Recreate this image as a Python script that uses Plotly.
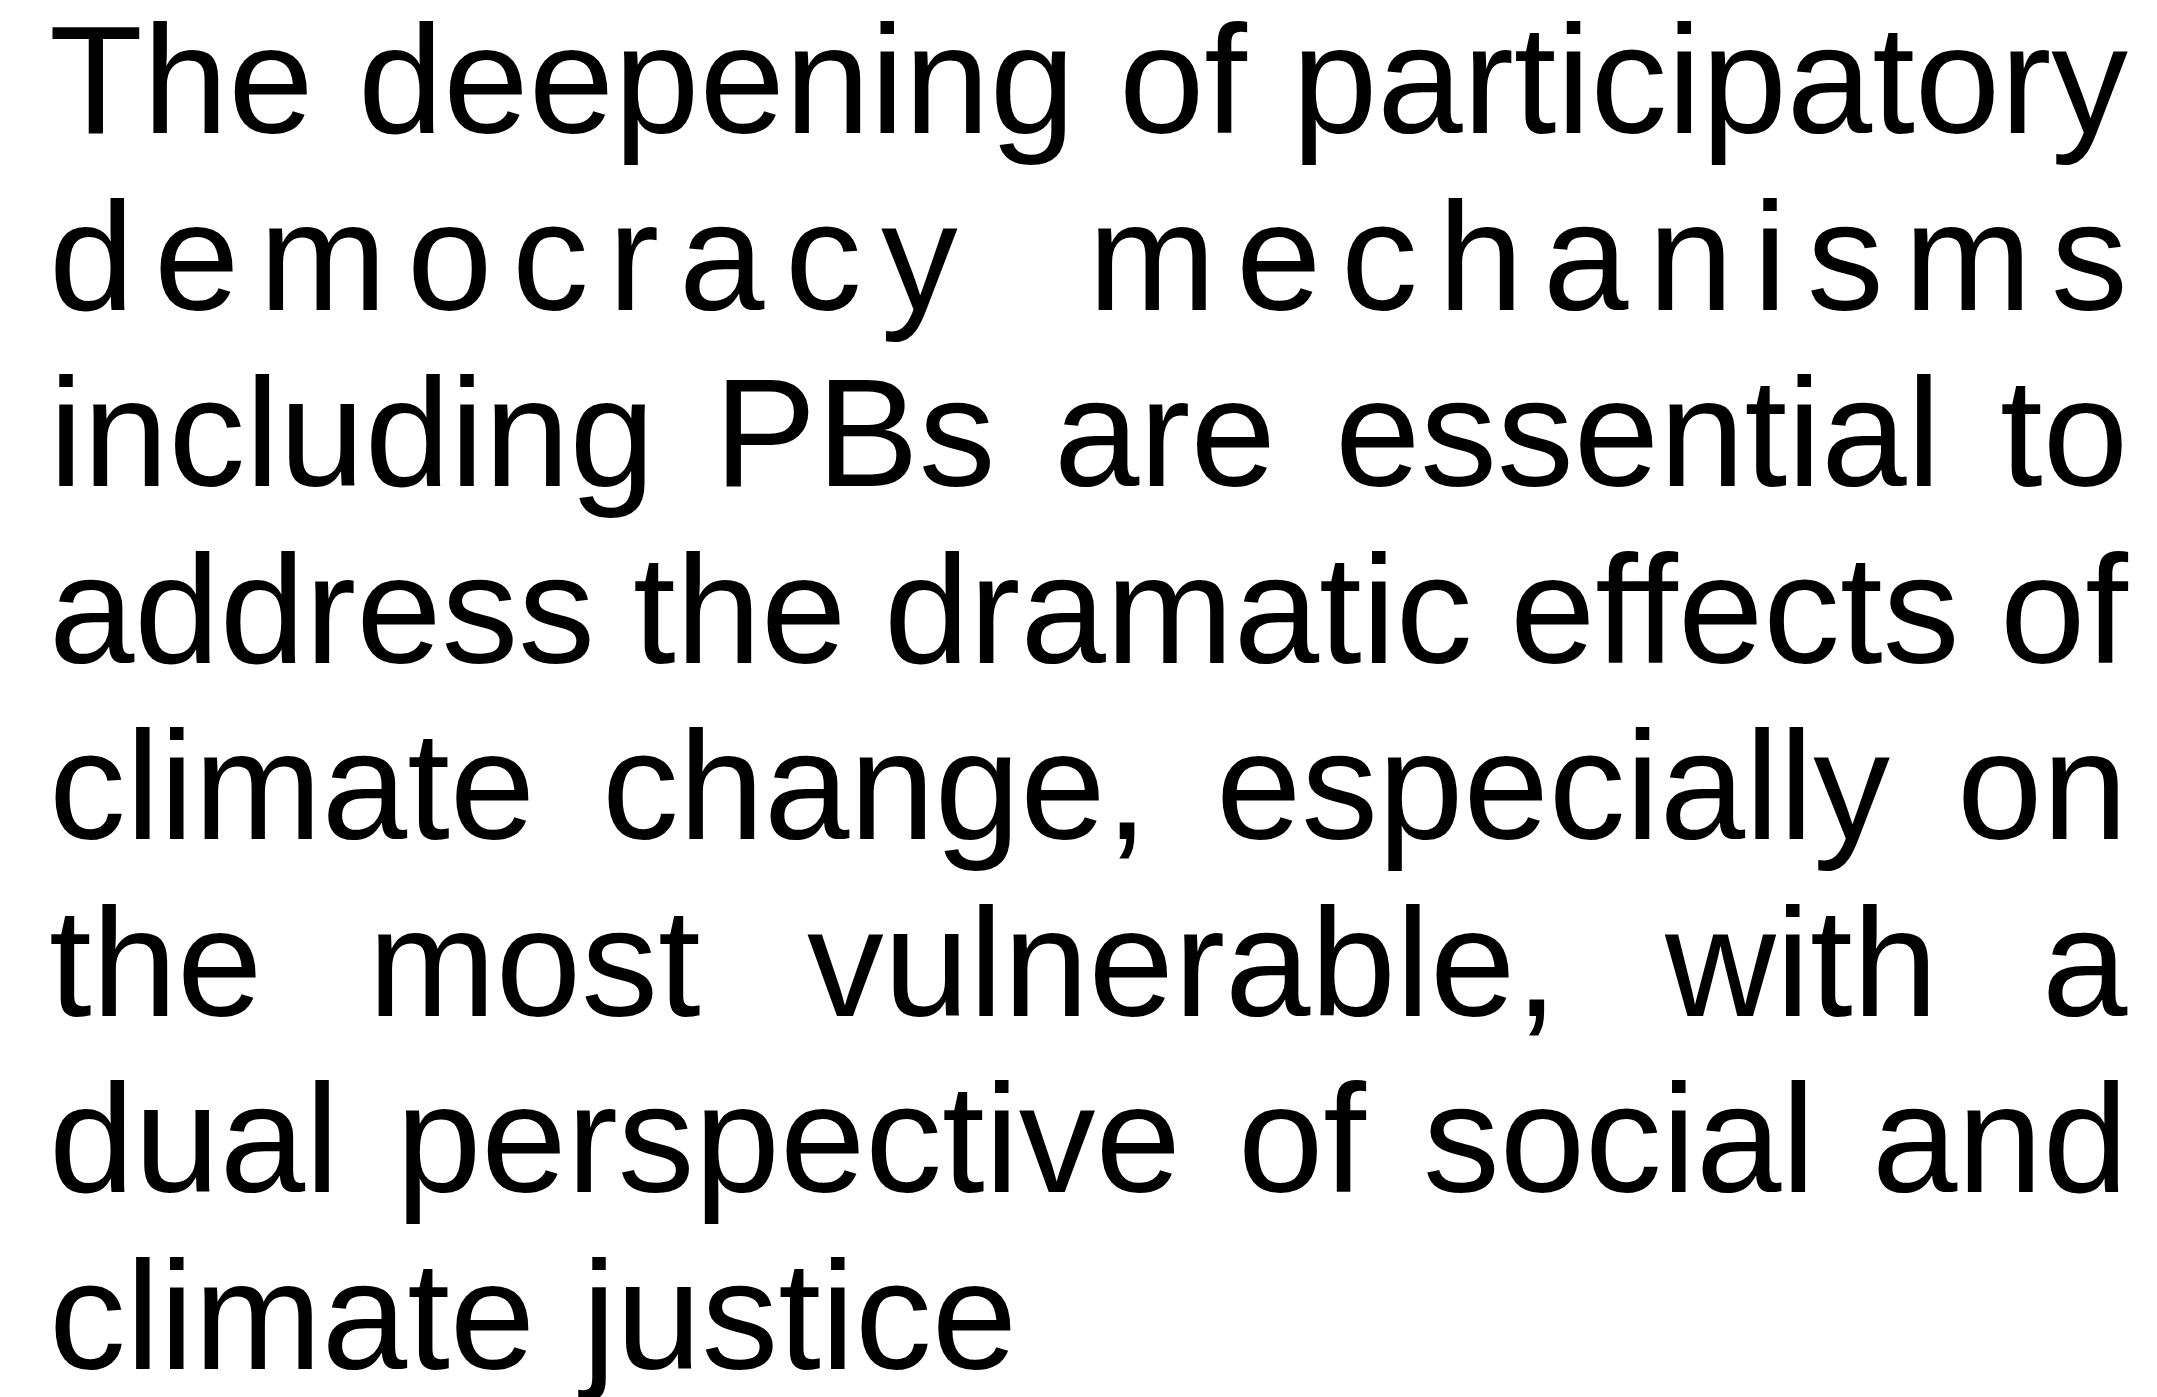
import plotly.graph_objects as go

# ---- text content (one entry per rendered line) ----
LINES = [
    "The deepening of participatory",
    "democracy mechanisms",
    "including PBs are essential to",
    "address the dramatic effects of",
    "climate change, especially on",
    "the most vulnerable, with a",
    "dual perspective of social and",
    "climate justice",
]
ALIGN = ["justify", "distribute", "justify", "justify",
         "justify", "justify", "justify", "left"]

# ---- layout constants ----
W_PX, H_PX = 2157, 1397
FONT_SIZE = 153.5
FONT_FAMILY = "Arial, Liberation Sans, Helvetica, sans-serif"
LEFT = 48.8
RIGHT = 2128.0
FIRST_BASELINE = 133.5
LINE_STEP = 176.5
LETTER_GAP = 19.8
CENTER_OFFSET = 0.3465  # em, from baseline to middle of text box

# Arial / Liberation Sans advance widths (1/1000 em)
ADV = {
    " ": 278, ",": 278, ".": 278,
    "a": 556, "b": 556, "c": 500, "d": 556, "e": 556, "f": 278, "g": 556,
    "h": 556, "i": 222, "j": 222, "k": 500, "l": 222, "m": 833, "n": 556,
    "o": 556, "p": 556, "q": 556, "r": 333, "s": 500, "t": 278, "u": 556,
    "v": 500, "w": 722, "x": 500, "y": 500, "z": 500,
    "T": 611, "P": 667, "B": 667,
}


def adv(s):
    return sum(ADV[c] for c in s) * FONT_SIZE / 1000.0


def place_line(text, mode):
    """Return list of (string, x, xanchor) for one line."""
    out = []
    if mode == "justify":
        words = text.split(" ")
        widths = [adv(w) for w in words]
        gap = (RIGHT - LEFT - sum(widths)) / (len(words) - 1)
        x = LEFT
        for i, w in enumerate(words):
            if i == len(words) - 1:
                out.append((w, RIGHT, "right"))
            else:
                out.append((w, x, "left"))
            x += widths[i] + gap
    elif mode == "distribute":
        words = text.split(" ")
        n_letter_gaps = sum(len(w) - 1 for w in words)
        natural = sum(adv(w) for w in words)
        word_gap = (RIGHT - LEFT - natural - n_letter_gaps * LETTER_GAP) / (len(words) - 1)
        x = LEFT
        for wi, w in enumerate(words):
            for ci, ch in enumerate(w):
                last = (wi == len(words) - 1 and ci == len(w) - 1)
                if last:
                    out.append((ch, RIGHT, "right"))
                else:
                    out.append((ch, x, "left"))
                x += adv(ch)
                if ci < len(w) - 1:
                    x += LETTER_GAP
            x += word_gap
    else:
        words = text.split(" ")
        x = LEFT
        for w in words:
            out.append((w, x, "left"))
            x += adv(w) + adv(" ")
    return out


annotations = []
for i, (line, mode) in enumerate(zip(LINES, ALIGN)):
    baseline = FIRST_BASELINE + i * LINE_STEP
    yc = baseline - CENTER_OFFSET * FONT_SIZE
    for s, x, xa in place_line(line, mode):
        annotations.append(dict(
            text=s, x=x, y=yc, xref="x", yref="y",
            xanchor=xa, yanchor="middle", showarrow=False,
            borderpad=0, borderwidth=0,
            font=dict(family=FONT_FAMILY, size=FONT_SIZE, color="#000000"),
        ))

fig = go.Figure()
fig.add_trace(go.Scatter(x=[0, W_PX], y=[0, H_PX], mode="markers",
                         marker=dict(opacity=0), hoverinfo="skip", showlegend=False))
fig.update_layout(
    width=W_PX, height=H_PX,
    margin=dict(l=0, r=0, t=0, b=0),
    paper_bgcolor="#ffffff", plot_bgcolor="#ffffff",
    xaxis=dict(range=[0, W_PX], visible=False, fixedrange=True),
    yaxis=dict(range=[H_PX, 0], visible=False, fixedrange=True),
    annotations=annotations,
    showlegend=False,
)
fig.write_html(
    "out.html",
    config={"displayModeBar": False},
    post_script="document.body.style.margin='0';document.body.style.overflow='hidden';",
)
